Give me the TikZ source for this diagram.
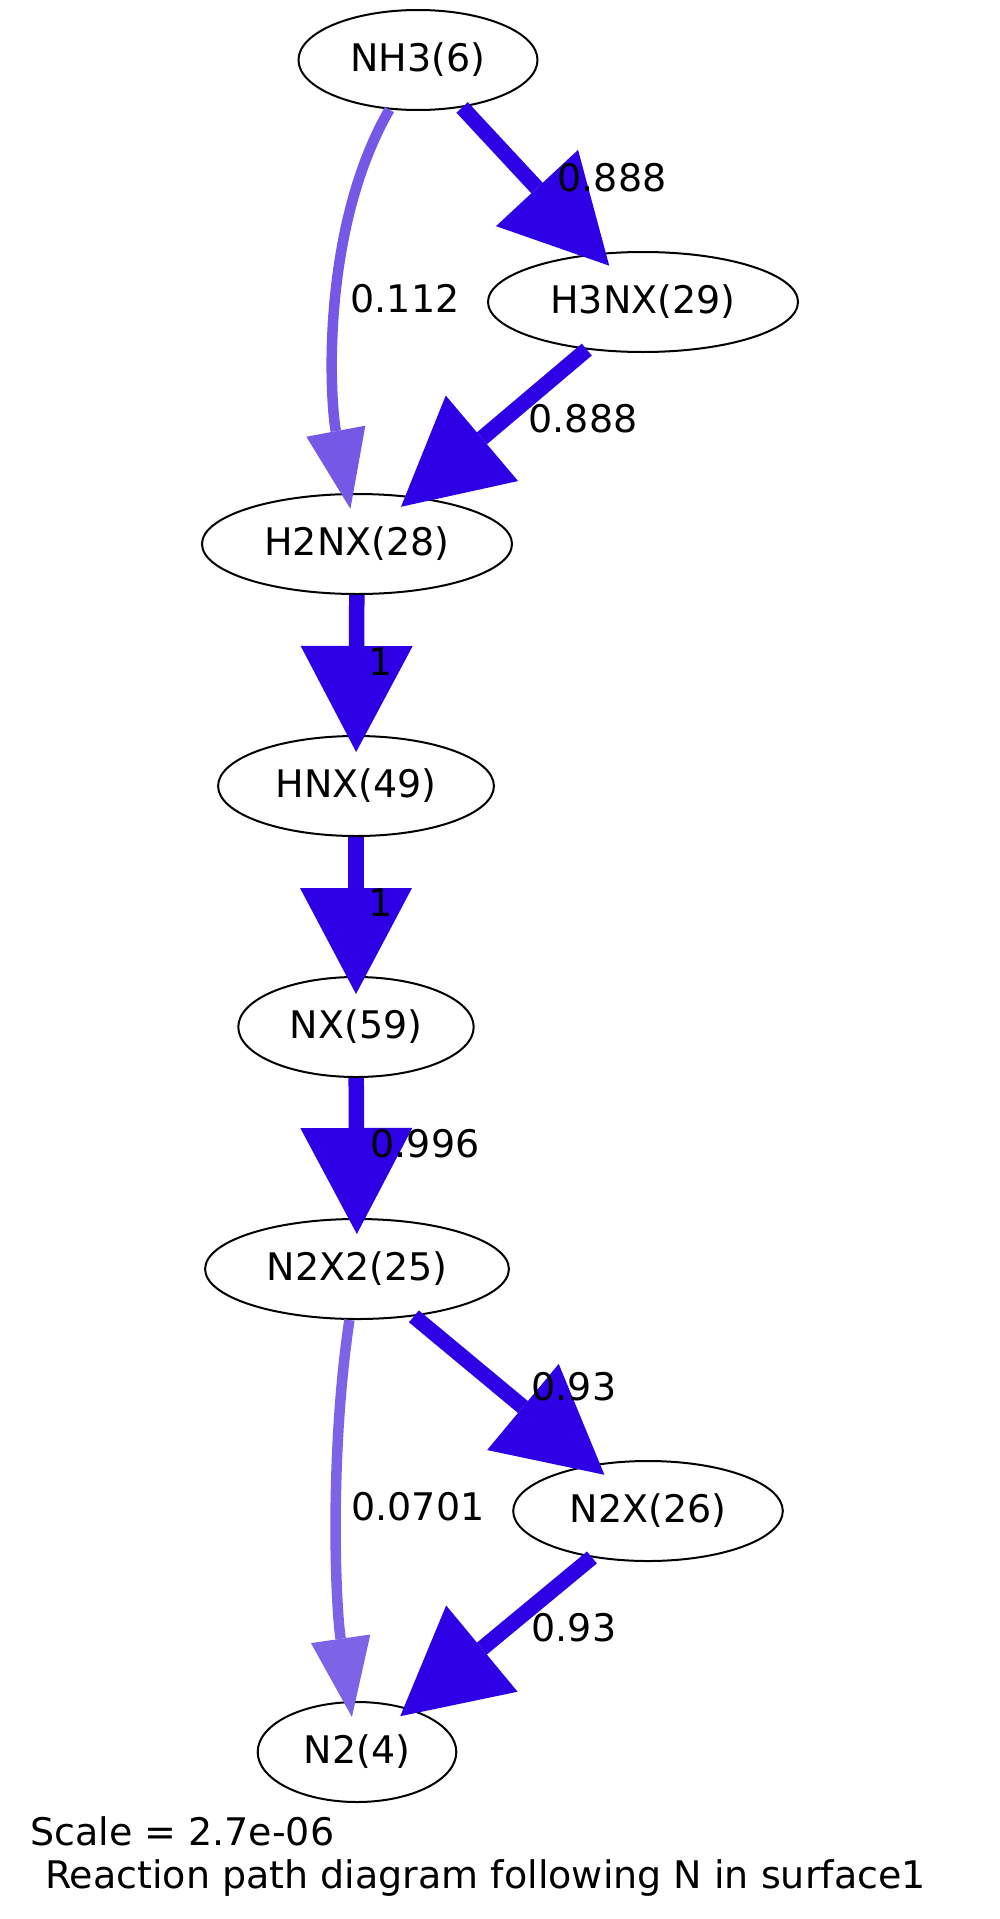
\documentclass[tikz,border=0pt]{standalone}
\usepackage{fontspec}
\setmainfont{DejaVu Sans}
\usetikzlibrary{shapes.geometric,arrows.meta}
\definecolor{fluxhi}{HTML}{2E00E6}
\definecolor{fluxmid}{HTML}{7559E6}
\definecolor{fluxlow}{HTML}{7D63E6}

\begin{document}
\begin{tikzpicture}[x=1pt,y=-1pt,
  every node/.style={font=\fontsize{38}{46}\selectfont},
  species/.style={draw,ellipse,line width=2pt,inner xsep=17pt,inner ysep=17pt,minimum height=100pt},
  major/.style={line width=15.5pt,-{Triangle[width=112pt,length=106pt,line width=0pt]}},
  minor/.style={line width=10.5pt,-{Triangle[width=60pt,length=79pt,line width=0pt]}},
  flux/.style={inner sep=0pt}]
  \useasboundingbox (0,0) rectangle (1000,1919);

  \node[species] (NH3) at (418,60) {NH3(6)};
  \node[species] (H3NX) at (643,302) {H3NX(29)};
  \node[species] (H2NX) at (357,544) {H2NX(28)};
  \node[species] (HNX) at (356,786) {HNX(49)};
  \node[species] (NX) at (356,1027) {NX(59)};
  \node[species] (N2X2) at (357,1269) {N2X2(25)};
  \node[species] (N2X) at (648,1511) {N2X(26)};
  \node[species] (N2) at (357,1752) {N2(4)};

  \draw[minor,fluxmid,shorten >=-16pt] (NH3) .. controls (320,230) and (330,400) .. (H2NX);
  \draw[major,fluxhi,shorten >=-17pt] (NH3) -- (H3NX);
  \draw[major,fluxhi,shorten >=-16pt] (H3NX) -- (H2NX);
  \draw[major,fluxhi,shorten >=-17pt] (H2NX) -- (HNX);
  \draw[major,fluxhi,shorten >=-18pt] (HNX) -- (NX);
  \draw[major,fluxhi,shorten >=-16pt] (NX) -- (N2X2);
  \draw[major,fluxhi,shorten >=-16pt] (N2X2) -- (N2X);
  \draw[minor,fluxlow,shorten >=-16pt] (N2X2) .. controls (330,1450) and (335,1600) .. (N2);
  \draw[major,fluxhi,shorten >=-12pt] (N2X) -- (N2);

  \node[flux] (f1) at (612,178) {0.888};
  \node[flux] (f2) at (405,299) {0.112};
  \node[flux] (f3) at (583,419) {0.888};
  \node[flux] (f4) at (381,662) {1};
  \node[flux] (f5) at (381,903) {1};
  \node[flux] (f6) at (425,1144) {0.996};
  \node[flux] (f7) at (574,1387) {0.93};
  \node[flux] (f8) at (418,1507) {0.0701};
  \node[flux] (f9) at (574,1628) {0.93};

  \node[flux,anchor=base west] (scale) at (30,1845) {Scale = 2.7e-06};
  \node[flux,anchor=base west] (title) at (45,1888) {Reaction path diagram following N in surface1};
\end{tikzpicture}
\end{document}
